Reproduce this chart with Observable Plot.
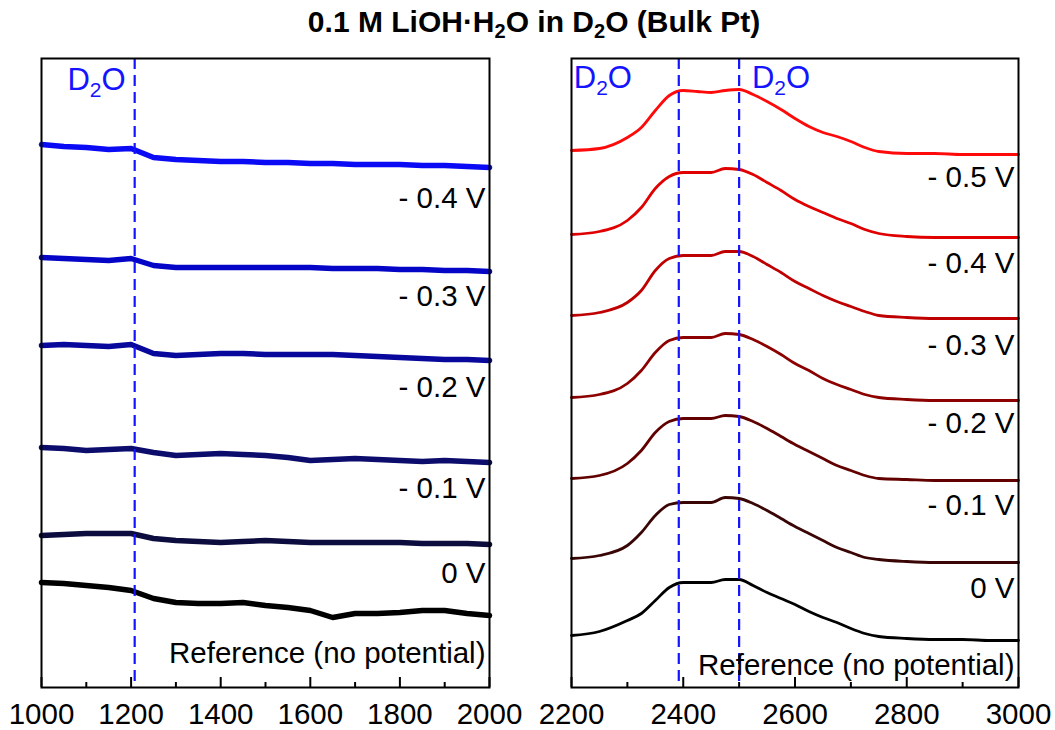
<!DOCTYPE html>
<html><head><meta charset="utf-8">
<script src="https://cdn.jsdelivr.net/npm/d3@7"></script>
<script src="https://cdn.jsdelivr.net/npm/@observablehq/plot@0.6"></script>
<style>
body{margin:0;background:#fff;font-family:"Liberation Sans",Arial,sans-serif;}
#wrap{position:relative;width:1055px;height:730px;overflow:hidden;background:#fff;}
#title{position:absolute;z-index:5;left:0;top:5px;width:1068px;text-align:center;font-weight:bold;font-size:30px;line-height:34px;color:#000;}
#title sub{font-size:20px;line-height:0;vertical-align:-6px;}
#left,#right{position:absolute;top:0;z-index:1;}
#left{left:0}
#right{left:530px}
</style></head><body>
<div id="wrap">
<div id="left"></div><div id="right"></div>
<div id="title">0.1 M LiOH·H<sub>2</sub>O in D<sub>2</sub>O (Bulk Pt)</div>
</div>
<script>
// ---------- Left panel (1000–2000 cm-1), intensity in arbitrary units ----------
const leftX = [1000,1050,1100,1150,1200,1250,1300,1350,1400,1450,1500,1550,1600,1650,1700,1750,1800,1850,1900,1950,2000];
const leftNames = ["- 0.4 V","- 0.3 V","- 0.2 V","- 0.1 V","0 V","Reference (no potential)"];
const leftColors = ["#0a0af5","#0505c8","#08089c","#0c0c6c","#0c0c3e","#000000"];
const leftM04 = [543,541,540,538,539,530,528,527,526,526,525,525,524,524,523,523,523,522,522,521,520];
const leftM03 = [430,429,428,427,429,422,420,420,420,420,420,420,420,419,419,419,418,418,417,417,416];
const leftM02 = [342,343,342,341,343,334,332,333,334,334,333,333,333,333,332,331,330,329,328,328,327];
const leftM01 = [240,239,237,238,239,235,232,233,234,233,232,230,227,228,229,228,227,226,227,226,225];
const left0V  = [152,153,154,154,154,149,147,146,145,146,147,146,145,145,145,145,145,144,144,144,143];
const leftRef = [105,104,102,100,97,89,85,84,84,85,82,80,77,70,74,74,75,77,77,74,72];
const leftLabelY = [489,391,300,199,114,34];
const leftDash = [1208];
const leftD2OX = [1058];
const leftD2OY = [607];
const leftMajor = [1000,1200,1400,1600,1800,2000];
const leftMinor = [1100,1300,1500,1700,1900];

// ---------- Right panel (2200–3000 cm-1) ----------
const rightX = [2200,2250,2300,2325,2350,2375,2400,2425,2450,2475,2500,2525,2550,2575,2600,2625,2650,2675,2700,2725,2750,2800,2850,2900,2950,3000];
const rightNames = ["- 0.5 V","- 0.4 V","- 0.3 V","- 0.2 V","- 0.1 V","0 V","Reference (no potential)"];
const rightColors = ["#ff0a0a","#e00000","#bf0000","#8c0000","#620000","#3a0505","#000000"];
const rightM05 = [537,539,550,560,577,592,597,596,595,597,598,593,586,578,569,561,555,551,546,540,536,534,534,533,533,533];
const rightM04 = [453,456,467,480,499,511,515,515,515,519,518,513,505,497,488,481,475,469,464,458,454,451,450,450,450,450];
const rightM03 = [372,375,385,397,417,429,432,432,432,436,436,431,423,415,406,399,392,386,381,376,372,370,369,369,369,369];
const rightM02 = [290,293,304,317,335,347,350,350,350,354,353,348,341,333,324,317,309,303,298,293,290,288,287,287,287,287];
const rightM01 = [209,212,224,237,255,266,269,269,269,272,271,266,259,251,243,236,229,222,217,212,209,208,207,207,207,207];
const right0V  = [129,132,142,155,172,183,185,185,185,190,189,184,177,169,161,154,147,140,135,130,128,126,125,125,125,125];
const rightRef = [52,56,67,74,87,100,105,105,105,108,108,102,95,89,83,76,70,65,59,54,51,49,48,48,47,47];
const rightLabelY = [510,424,342,264,182,99,22];
const rightDash = [2392,2500];
const rightD2OX = [2204,2523];
const rightD2OY = [609,609];
const rightMajor = [2200,2400,2600,2800,3000];
const rightMinor = [2300,2500,2700,2900];

const dashColor = "#1414ff";
const FONT = "'Liberation Sans', Arial, sans-serif";

function panel({xDomain, width, marginLeft, marginRight, xs, names, colors, series, labelY, dashes, d2oX, d2oY, major, minor, strokeWidth, curve}) {
  const rows = series.flatMap((vals, s) => xs.map((x, i) => ({x, y: vals[i], name: names[s], color: colors[s]})));
  const labels = names.map((t, i) => ({t, y: labelY[i]}));
  const d2o = d2oX.map((x, i) => ({x, y: d2oY[i]}));
  return Plot.plot({
    width, height: 730, marginLeft, marginRight, marginTop: 58, marginBottom: 43,
    x: {domain: xDomain, axis: null},
    y: {domain: [0, 629], axis: null},
    color: {type: "identity"},
    style: {fontFamily: FONT, fontSize: "29px", color: "black", background: "transparent", overflow: "visible"},
    marks: [
      Plot.lineY(rows, {x: "x", y: "y", z: "name", stroke: "color", strokeWidth, strokeLinejoin: "round", curve}),
      Plot.ruleX(dashes, {stroke: dashColor, strokeWidth: 2.2, strokeDasharray: "11,6"}),
      Plot.text(labels, {x: xDomain[1], y: "y", text: "t", textAnchor: "end", dx: -4, fontSize: 29.5, fill: "black"}),
      Plot.text(d2o, {x: "x", y: "y", text: () => "D2O", textAnchor: "start", fontSize: 31, fill: dashColor}),
      Plot.ruleX(major, {y1: 0, y2: 10, stroke: "black", strokeWidth: 2}),
      Plot.ruleX(minor, {y1: 0, y2: 5, stroke: "black", strokeWidth: 2}),
      Plot.axisX(major, {tickSize: 0, tickPadding: 16, tickFormat: "d", fontSize: 29.5, label: null}),
      Plot.frame({stroke: "black", strokeWidth: 2})
    ]
  });
}

function subscriptD2O(svg) {
  svg.querySelectorAll("text").forEach(t => {
    if (t.textContent === "D2O") {
      t.textContent = "";
      const ns = "http://www.w3.org/2000/svg";
      const a = document.createElementNS(ns, "tspan"); a.textContent = "D";
      const b = document.createElementNS(ns, "tspan"); b.textContent = "2"; b.setAttribute("dy", "7"); b.setAttribute("font-size", "21");
      const c = document.createElementNS(ns, "tspan"); c.textContent = "O"; c.setAttribute("dy", "-7");
      t.append(a, b, c);
    }
  });
}

const leftPlot = panel({
  xDomain: [1000, 2000], width: 530, marginLeft: 41, marginRight: 41,
  xs: leftX, names: leftNames, colors: leftColors,
  series: [leftM04, leftM03, leftM02, leftM01, left0V, leftRef],
  labelY: leftLabelY, dashes: leftDash, d2oX: leftD2OX, d2oY: leftD2OY,
  major: leftMajor, minor: leftMinor, strokeWidth: 5.5, curve: "linear"
});
const rightPlot = panel({
  xDomain: [2200, 3000], width: 525, marginLeft: 41, marginRight: 37,
  xs: rightX, names: rightNames, colors: rightColors,
  series: [rightM05, rightM04, rightM03, rightM02, rightM01, right0V, rightRef],
  labelY: rightLabelY, dashes: rightDash, d2oX: rightD2OX, d2oY: rightD2OY,
  major: rightMajor, minor: rightMinor, strokeWidth: 2.8, curve: "monotone-x"
});
subscriptD2O(leftPlot);
subscriptD2O(rightPlot);
document.getElementById("left").append(leftPlot);
document.getElementById("right").append(rightPlot);
</script>
</body></html>
